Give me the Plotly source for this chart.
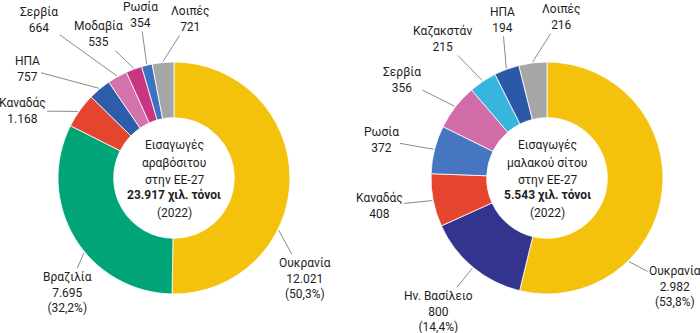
import math
import plotly.graph_objects as go

# ---------------- data ----------------
corn_countries = ["Ουκρανία", "Βραζιλία", "Καναδάς", "ΗΠΑ", "Σερβία", "Μοδαβία", "Ρωσία", "Λοιπές"]
corn_values = [12021, 7695, 1168, 757, 664, 535, 354, 721]
corn_value_text = ["12.021", "7.695", "1.168", "757", "664", "535", "354", "721"]
corn_pct_text = ["(50,3%)", "(32,2%)", "", "", "", "", "", ""]
corn_center_lines = ["Εισαγωγές", "αραβόσιτου", "στην ΕΕ-27", "<b>23.917 χιλ. τόνοι</b>", "(2022)"]

wheat_countries = ["Ουκρανία", "Ην. Βασίλειο", "Καναδάς", "Ρωσία", "Σερβία", "Καζακστάν", "ΗΠΑ", "Λοιπές"]
wheat_values = [2982, 800, 408, 372, 356, 215, 194, 216]
wheat_value_text = ["2.982", "800", "408", "372", "356", "215", "194", "216"]
wheat_pct_text = ["(53,8%)", "(14,4%)", "", "", "", "", "", ""]
wheat_center_lines = ["Εισαγωγές", "μαλακού σίτου", "στην ΕΕ-27", "<b>5.543 χιλ. τόνοι</b>", "(2022)"]

# ---------------- style ----------------
W, H = 700, 333
FONT = "Roboto"
FS = 12
TXT = "#1e1e1e"
corn_colors = ["#F4C20D", "#00A477", "#E5452F", "#2D5DAA", "#D373AC", "#C93580", "#3D72C0", "#A6A6A6"]
wheat_colors = ["#F4C20D", "#33348E", "#E5452F", "#4676C2", "#D26CA8", "#37B5DC", "#2C58A8", "#A6A6A6"]

# pie geometry (pixels)
L_CX, L_CY, R_CX, R_CY, RAD = 174, 178, 547, 178, 116
HOLE = 0.52
CENTER_LINE_OFFSETS = [-33, -15, 2, 18, 35]

# label placement (pixel centres) and leader attachment fraction within slice
corn_label_pos = [(305, 278), (67, 292), (22, 111), (27, 69), (39, 20), (98, 34), (140, 15), (190, 19)]
corn_attach = [0.644, 0.426, 0.45, 0.5, 0.5, 0.5, 0.5, 0.5]
wheat_label_pos = [(675, 286), (438, 311), (379, 206), (381, 140), (402, 80), (442, 39), (502, 20), (561, 17)]
wheat_attach = [0.70, 0.5, 0.5, 0.5, 0.5, 0.5, 0.5, 0.5]


def domain(cx, cy):
    return dict(x=[(cx - RAD) / W, (cx + RAD) / W], y=[1 - (cy + RAD) / H, 1 - (cy - RAD) / H])


fig = go.Figure()
for cx, cy, labels, vals, cols in [
    (L_CX, L_CY, corn_countries, corn_values, corn_colors),
    (R_CX, R_CY, wheat_countries, wheat_values, wheat_colors),
]:
    fig.add_trace(go.Pie(
        labels=labels, values=vals, hole=HOLE, sort=False, direction="clockwise", rotation=0,
        marker=dict(colors=cols, line=dict(color="white", width=0.8)),
        textinfo="none", hoverinfo="label+value", showlegend=False, domain=domain(cx, cy),
    ))

annotations = []


def add_labels(cx, cy, names, vals, vtext, ptext, positions, attach):
    total = sum(vals)
    start = 0.0
    for name, v, vt, pt, (lx, ly), fr in zip(names, vals, vtext, ptext, positions, attach):
        span = v / total * 360.0
        ang = math.radians(start + fr * span)
        start += span
        px = cx + (RAD + 1) * math.sin(ang)
        py = cy - (RAD + 1) * math.cos(ang)
        txt = name + "<br>" + vt + ("<br>" + pt if pt else "")
        annotations.append(dict(
            x=px / W, y=1 - py / H, xref="paper", yref="paper",
            ax=lx - px, ay=ly - py, axref="pixel", ayref="pixel",
            text=txt, showarrow=True, arrowhead=0, arrowwidth=1, arrowcolor="#8a8a8a",
            font=dict(family=FONT, size=FS, color=TXT), align="center", borderpad=1,
        ))


add_labels(L_CX, L_CY, corn_countries, corn_values, corn_value_text, corn_pct_text, corn_label_pos, corn_attach)
add_labels(R_CX, R_CY, wheat_countries, wheat_values, wheat_value_text, wheat_pct_text, wheat_label_pos, wheat_attach)

for cx, cy, lines in [(L_CX, L_CY, corn_center_lines), (R_CX, R_CY, wheat_center_lines)]:
    for line, off in zip(lines, CENTER_LINE_OFFSETS):
        annotations.append(dict(
            x=cx / W, y=1 - (cy + off) / H, xref="paper", yref="paper", showarrow=False,
            text=line, font=dict(family=FONT, size=FS, color=TXT),
            xanchor="center", yanchor="middle",
        ))

fig.update_layout(
    width=W, height=H, margin=dict(l=0, r=0, t=0, b=0),
    paper_bgcolor="white", plot_bgcolor="white",
    annotations=annotations, font=dict(family=FONT, size=FS, color=TXT),
)
fig.write_html("out.html")
